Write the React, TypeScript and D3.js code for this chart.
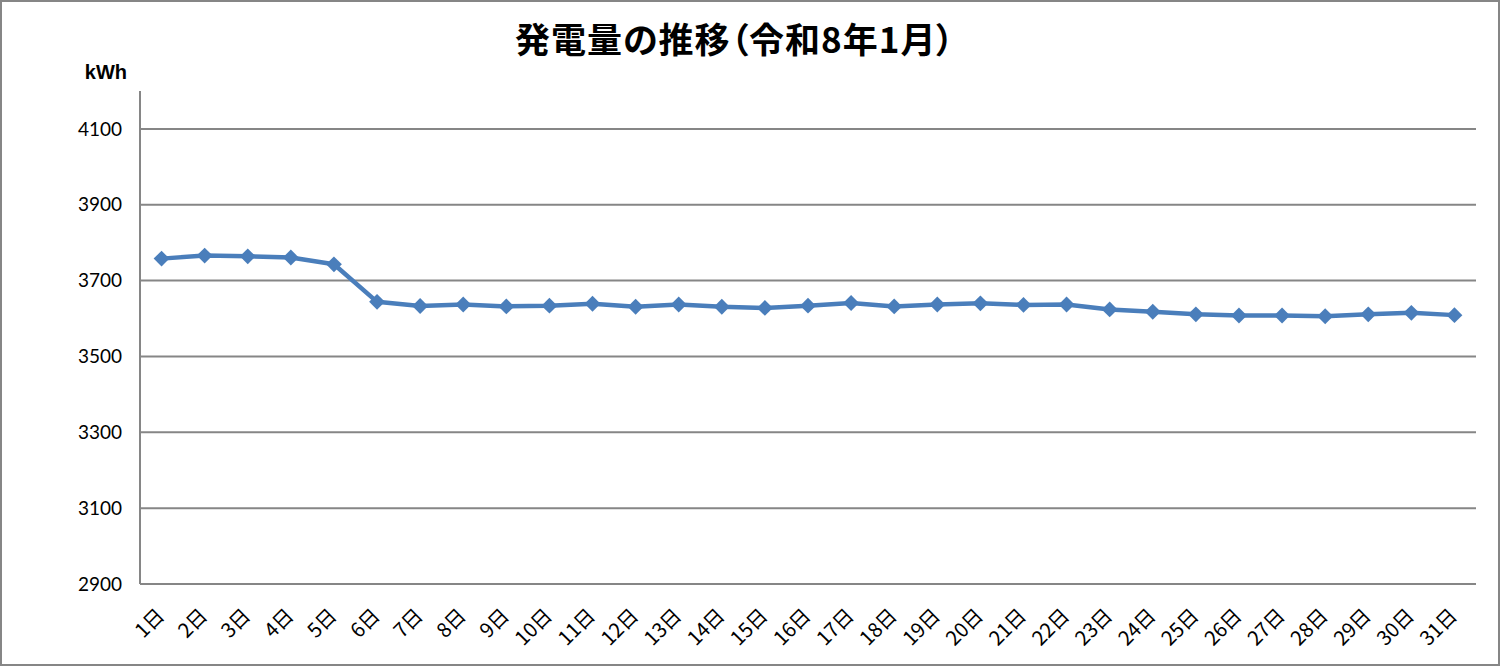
import * as d3 from "d3";

// 令和8年1月 daily generation (kWh)
const days = d3.range(1, 32).map((d) => `${d}日`);
const output = [
  3758, 3766, 3764, 3761, 3743, 3644, 3633, 3637, 3632, 3634, 3639, 3631, 3637,
  3631, 3628, 3634, 3641, 3632, 3637, 3640, 3636, 3637, 3624, 3618, 3611, 3608,
  3608, 3606, 3611, 3615, 3609,
];
const yTicks = [2900, 3100, 3300, 3500, 3700, 3900, 4100];

const W = 1500;
const H = 666;
const left = 140;
const right = 1476;
const top = 91;
const bottom = 584;

const grid = "#868686";
const blue = "#4a7ebb";

const App = () => {
  const x = d3.scalePoint<string>().domain(days).range([left, right]).padding(0.5);
  const y = d3.scaleLinear().domain([2900, 4200]).range([bottom, top]);

  const line = d3
    .line<number>()
    .x((_, i) => x(days[i])!)
    .y((v) => y(v));

  const diamond = d3.symbol().type(d3.symbolDiamond2).size(160)();

  return (
    <svg
      width={W}
      height={H}
      style={{ position: "absolute", left: 0, top: 0, background: "#fff" }}
    >
      <rect x={1} y={1} width={W - 2} height={H - 2} fill="#fff" stroke={grid} strokeWidth={2} />

      <text
        x={735}
        y={53}
        textAnchor="middle"
        fontFamily="'Noto Sans CJK JP'"
        fontWeight="bold"
        fontSize={35}
        letterSpacing={1}
        style={{ fontFeatureSettings: '"palt"' }}
      >
        発電量の推移（令和8年1月）
      </text>

      <text
        x={127}
        y={79}
        textAnchor="end"
        fontFamily="'Liberation Sans', Arial"
        fontWeight="bold"
        fontSize={20}
      >
        kWh
      </text>

      {/* gridlines + y labels */}
      {yTicks.map((t) => (
        <g key={t}>
          <line x1={left} x2={right} y1={y(t)} y2={y(t)} stroke={grid} strokeWidth={2} />
          <text
            x={122}
            y={y(t)}
            dy="0.35em"
            textAnchor="end"
            fontFamily="Lato"
            fontSize={19}
            fill="#000"
          >
            {t}
          </text>
        </g>
      ))}
      <line x1={left} x2={left} y1={top} y2={bottom} stroke={grid} strokeWidth={2} />

      {/* x labels */}
      {days.map((d) => (
        <text
          key={d}
          transform={`translate(${x(d)! + 4},${617}) rotate(-45)`}
          textAnchor="end"
          fontFamily="'Noto Sans CJK JP'"
          fontSize={20}
          fill="#000"
        >
          {d}
        </text>
      ))}

      <path d={line(output)!} fill="none" stroke={blue} strokeWidth={4.5} strokeLinejoin="round" />
      {output.map((v, i) => (
        <path
          key={i}
          d={diamond!}
          transform={`translate(${x(days[i])},${y(v)})`}
          fill={blue}
        />
      ))}
    </svg>
  );
};

export default App;
